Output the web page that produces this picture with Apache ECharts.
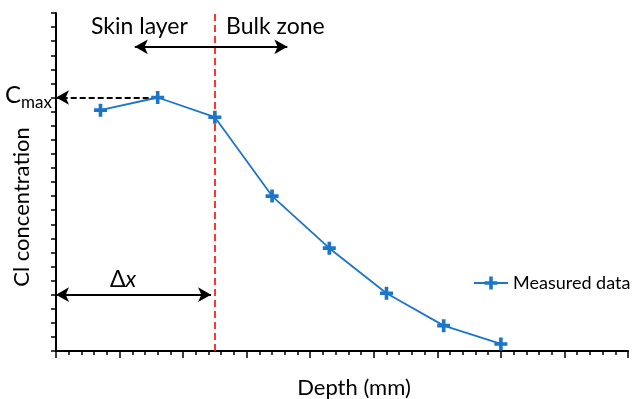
<!DOCTYPE html>
<html>
<head>
<meta charset="utf-8">
<script src="https://cdn.jsdelivr.net/npm/echarts@6/dist/echarts.min.js"></script>
<style>
  html, body { margin: 0; padding: 0; background: #fff; }
  #chart { width: 636px; height: 399px; }
</style>
</head>
<body>
<div id="chart"></div>
<script>
// depth (tick units) and Cl concentration (tick units)
const depth = [3.5, 8, 12.5, 17, 21.5, 26, 30.5, 35];
const conc  = [17.1, 18, 16.6, 11.0, 7.3, 4.1, 1.8, 0.5];

const skinDepth = 12.5;       // dashed red boundary
const cmaxLevel = 18;
const deltaLevel = 4;
const zoneArrowLevel = 21.6;
const zoneArrowFrom = 6.2;
const zoneArrowTo = 18.2;
const deltaArrowTo = 12.2;

const blue = "#1C75C9";
const font = "Lato";
const plus = "path://M3.6,0H6.4V3.6H10V6.4H6.4V10H3.6V6.4H0V3.6H3.6Z";

const chart = echarts.init(document.getElementById("chart"));

chart.setOption({
    backgroundColor: "#fff",
    animation: false,
    grid: { left: 56, right: 8, top: 13, bottom: 48, outerBoundsMode: "none", containLabel: false },

    legend: {
        left: 473,
        top: 274,
        padding: 0,
        itemWidth: 34,
        itemHeight: 16,
        itemGap: 5,
        textStyle: { fontFamily: font, fontSize: 18, color: "#000" },
        data: ["Measured data"]
    },

    xAxis: {
        type: "value",
        min: 0,
        max: 45,
        interval: 5,
        name: "Depth (mm)",
        nameLocation: "middle",
        nameGap: 26,
        nameTextStyle: { fontFamily: font, fontSize: 22, color: "#000", padding: [0, 0, 0, 24] },
        axisLine: { onZero: false, lineStyle: { color: "#000", width: 2 } },
        axisTick: { show: true, length: 7, lineStyle: { color: "#000", width: 1.5 } },
        minorTick: { show: true, splitNumber: 5, length: 4, lineStyle: { color: "#000", width: 1.5 } },
        axisLabel: { show: false },
        splitLine: { show: false }
    },

    yAxis: {
        type: "value",
        min: 0,
        max: 24,
        interval: 1,
        axisLine: { show: true, lineStyle: { color: "#000", width: 2 } },
        axisTick: { show: true, length: 5, lineStyle: { color: "#000", width: 1.5 } },
        axisLabel: { show: false },
        splitLine: { show: false }
    },

    series: [
        {
            name: "Measured data",
            type: "line",
            data: depth.map((d, i) => [d, conc[i]]),
            symbol: plus,
            symbolSize: 13,
            showAllSymbol: true,
            itemStyle: { color: blue },
            lineStyle: { color: blue, width: 1.8 },
            z: 5
        },
        {
            // annotations: boundary line and arrows
            name: "annot",
            type: "line",
            data: [],
            silent: true,
            markLine: {
                silent: true,
                animation: false,
                label: { show: false },
                emphasis: { disabled: true },
                data: [
                    [
                        { coord: [skinDepth, 0], symbol: "none" },
                        { coord: [skinDepth, 24], symbol: "none",
                          lineStyle: { color: "#FF2020", type: [7, 4], width: 1.8 } }
                    ],
                    [
                        { coord: [zoneArrowFrom, zoneArrowLevel], symbol: "arrow" },
                        { coord: [zoneArrowTo, zoneArrowLevel], symbol: "arrow",
                          lineStyle: { color: "#000", type: "solid", width: 2 } }
                    ],
                    [
                        { coord: [8, cmaxLevel], symbol: "none" },
                        { coord: [0, cmaxLevel], symbol: "arrow",
                          lineStyle: { color: "#000", type: [6, 3], width: 2 } }
                    ],
                    [
                        { coord: [0, deltaLevel], symbol: "arrow" },
                        { coord: [deltaArrowTo, deltaLevel], symbol: "arrow",
                          lineStyle: { color: "#000", type: "solid", width: 2 } }
                    ]
                ],
                symbolSize: [11, 13]
            }
        }
    ],

    graphic: [
        {
            type: "text", left: 91, top: 15,
            style: { text: "Skin layer", font: "23px Lato", fill: "#000" }
        },
        {
            type: "text", left: 226, top: 15,
            style: { text: "Bulk zone", font: "23px Lato", fill: "#000" }
        },
        {
            type: "text", left: 110, top: 268,
            style: {
                text: "{d|Δ}{x|x}",
                rich: {
                    d: { font: "23px Lato", fill: "#000" },
                    x: { font: "italic 23px Lato", fill: "#000" }
                }
            }
        },
        {
            type: "text", left: 5, top: 83,
            style: {
                text: "{c|C}{s|max}",
                rich: {
                    c: { font: "24px Lato", fill: "#000", verticalAlign: "top", height: 26 },
                    s: { font: "17px Lato", fill: "#000", verticalAlign: "bottom", height: 26, padding: [8, 0, 0, 0] }
                }
            }
        },
        {
            type: "text",
            x: 22, y: 207,
            rotation: Math.PI / 2,
            style: {
                text: "Cl concentration",
                font: "22px Lato",
                fill: "#000",
                align: "center",
                verticalAlign: "middle"
            }
        }
    ]
});
</script>
</body>
</html>
